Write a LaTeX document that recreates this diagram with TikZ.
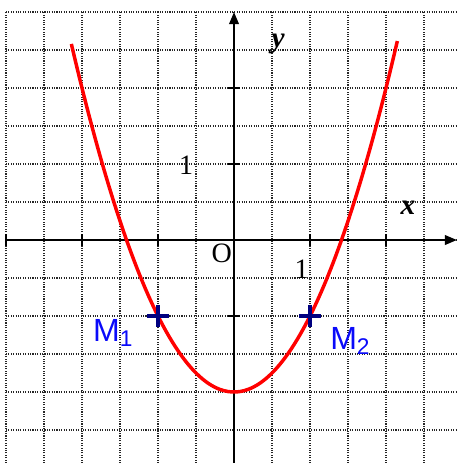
\documentclass[tikz,border=0pt]{standalone}
\usepackage{fontspec}
\usetikzlibrary{arrows.meta}
\setmainfont{Liberation Serif}
\newfontfamily\ptfont{Liberation Sans}
\definecolor{crossblue}{RGB}{0,0,128}
\definecolor{ptblue}{RGB}{10,10,250}
\tikzset{
  gridline/.style={densely dotted, black!85, line width=0.8pt},
  axisline/.style={line width=1.8pt},
  tickline/.style={line width=1.8pt},
  ptlabel/.style={text=ptblue, inner sep=0pt, font=\ptfont\fontsize{24}{27}\selectfont},
  numlabel/.style={inner sep=0pt, font=\fontsize{21}{24}\selectfont},
  varlabel/.style={inner sep=0pt, font=\fontsize{22}{24}\selectfont\bfseries\itshape},
  crossmark/.style={crossblue, line width=3pt}
}
\begin{document}
\begin{tikzpicture}[x=2cm, y=2cm, >={Triangle[length=9pt,width=7pt]}]
				\useasboundingbox (-3.079,-2.934) rectangle (2.934,3.158);
				% 1. grille
				\draw[gridline] (-3,-2.934) grid[step=0.5] (2.934,3);
				
				% 2. axes
				\draw[axisline, ->] (-3,0) -- (2.934,0);
				\draw[axisline, ->] (0,-2.934) -- (0,3);
				\foreach \t in {-3,-2,-1,1,2}
					\draw[tickline] (\t,-0.08) -- (\t,0.08);
				\foreach \t in {-2,-1,1,2}
					\draw[tickline] (-0.08,\t) -- (0.08,\t);
				
				% 3. labels
				\node[varlabel] (ylab) at (0.58,2.58) {y};
				\node[varlabel] (xlab) at (2.29,0.43) {x};
				\node[numlabel] (oneY) at (-0.63,0.99) {1};
				\node[numlabel] (oneX) at (0.89,-0.38) {1};
				\node[numlabel] (orig) at (-0.16,-0.18) {O};
				
				% 4. parabole
				\draw[red, line width=2.6pt, domain=-2.14:2.15, smooth, samples=80] plot (\x, {\x*\x-2});
				
				% 5. points
				\coordinate (M1) at (-1,-1);
				\coordinate (M2) at (1,-1);
				\draw[crossmark] ([xshift=-0.28cm]M1) -- ([xshift=0.28cm]M1);
				\draw[crossmark] ([yshift=-0.28cm]M1) -- ([yshift=0.28cm]M1);
				\draw[crossmark] ([xshift=-0.28cm]M2) -- ([xshift=0.28cm]M2);
				\draw[crossmark] ([yshift=-0.28cm]M2) -- ([yshift=0.28cm]M2);
				\node[ptlabel] (labM1) at (-1.59,-1.22) {M\textsubscript{\fontsize{17}{19}\selectfont 1}};
				\node[ptlabel] (labM2) at (1.53,-1.33) {M\textsubscript{\fontsize{17}{19}\selectfont 2}};
			\end{tikzpicture}
\end{document}
